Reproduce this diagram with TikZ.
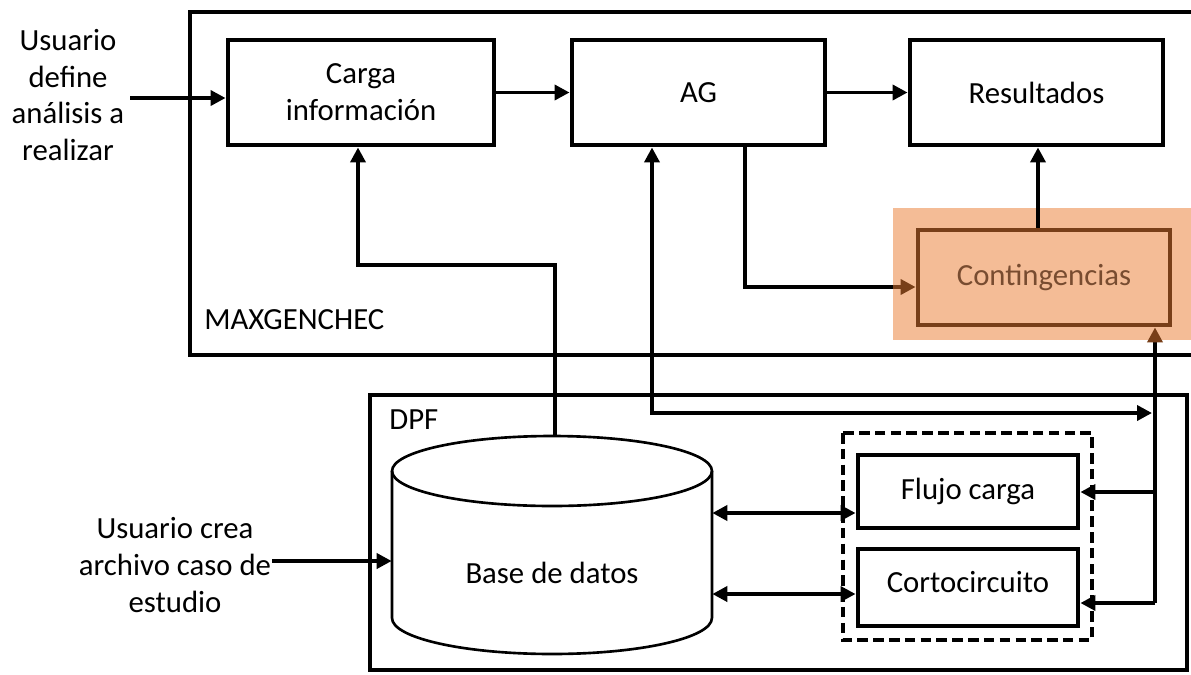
\documentclass[tikz,border=0pt]{standalone}
\usepackage{fontspec}
\setmainfont{Carlito}
\usetikzlibrary{arrows.meta,calc}
\definecolor{contfill}{RGB}{244,188,150}
\definecolor{contline}{RGB}{120,63,25}
\definecolor{conttext}{RGB}{120,76,48}
\begin{document}
\begin{tikzpicture}[x=0.02cm,y=-0.02cm,
  font=\fontsize{17.5}{21}\selectfont,
  blk/.style={draw,line width=2.8pt,align=center,inner sep=0pt},
  conn/.style={line width=2.1pt},
  tip/.style={-{Triangle[length=0.3cm,width=0.3cm]}},
  arr/.style={conn,tip},
  darr/.style={conn,{Triangle[length=0.3cm,width=0.3cm]}-{Triangle[length=0.3cm,width=0.3cm]}},
  lbl/.style={align=center,inner sep=0pt}]
\useasboundingbox (0,0) rectangle (1191,674);

% highlight behind the contingency block
\fill[contfill] (893,208) rectangle (1195,340);

% MAXGENCHEC frame
\draw[line width=2.6pt] (190,12) rectangle (1215,355);
\node[anchor=west,inner sep=0pt] (maxlbl) at (204,320) {MAXGENCHEC};

% DPF frame
\draw[line width=2pt] (370,395) rectangle (1187,670);
\node[anchor=west,inner sep=0pt] (dpflbl) at (389,420) {DPF};

% database cylinder
\draw[line width=1.5pt,fill=white] (392,471) -- (392,618)
  arc[start angle=180,end angle=360,x radius=3.2cm,y radius=0.72cm] -- (712,471);
\draw[line width=1.5pt] (552,471) ellipse [x radius=3.2cm,y radius=0.7cm];
\node[lbl,minimum width=6.4cm] (db) at (552,573) {Base de datos};
\coordinate (dbtop) at (555,436);

% blocks
\node[blk,minimum width=5.32cm,minimum height=2.1cm] (carga) at (361,92.5) {Carga\\información};
\node[blk,minimum width=5.06cm,minimum height=2.1cm] (ag) at (698.5,92.5) {AG};
\node[blk,minimum width=5.06cm,minimum height=2.1cm] (res) at (1036.5,92.5) {Resultados};
\node[blk,draw=contline,text=conttext,minimum width=5.04cm,minimum height=1.9cm] (cont) at (1044,277.5) {Contingencias};

\draw[line width=2.4pt,dash pattern=on 6pt off 3pt] (843,433) rectangle (1092,640);
\node[blk,minimum width=4.4cm,minimum height=1.46cm] (flujo) at (968,491.5) {Flujo carga};
\node[blk,minimum width=4.4cm,minimum height=1.54cm] (corto) at (968,587.5) {\raisebox{0.22cm}{Cortocircuito}};

% external inputs
\node[lbl] (u1) at (68,95) {Usuario\\define\\análisis a\\realizar};
\node[lbl] (u2) at (175,565) {Usuario crea\\archivo caso de\\estudio};

% connectors
\coordinate (u1e) at (130,98);
\draw[arr] (u1e) -- (u1e -| carga.west);
\draw[arr] (carga.east) -- (ag.west);
\draw[arr] (ag.east) -- (res.west);
\draw[arr] ([xshift=-0.12cm]cont.north) -- ([xshift=-0.12cm]cont.north |- res.south);

\coordinate (xa) at (745,287);
\coordinate (bgl) at (893,287);
\draw[conn] (ag.south -| xa) -- (xa) -- (bgl);
\draw[arr,contline] (bgl) -- (bgl -| cont.west);

\coordinate (k1) at (358,265);
\draw[arr] (dbtop) |- (k1) -- (k1 |- carga.south);

\coordinate (k2) at (652,413);
\coordinate (k3) at (1152,413);
\draw[darr] (k2 |- ag.south) -- (k2) -- (k3);

\coordinate (r1) at (1155,492);
\coordinate (r2) at (1155,603);
\coordinate (rt) at (1155,340);
\draw[conn] (r2) -- (rt);
\draw[arr,contline] (rt) -- (rt |- cont.south);
\draw[arr] (r1) -- (r1 -| flujo.east);
\draw[arr] (r2) -- (r2 -| corto.east);

\coordinate (d1) at (712,513);
\coordinate (d2) at (712,594);
\draw[darr] (d1 -| db.east) -- (d1 -| flujo.west);
\draw[darr] (d2 -| db.east) -- (d2 -| corto.west);

\coordinate (u2e) at (272,561);
\draw[arr] (u2e) -- (u2e -| db.west);
\end{tikzpicture}
\end{document}
